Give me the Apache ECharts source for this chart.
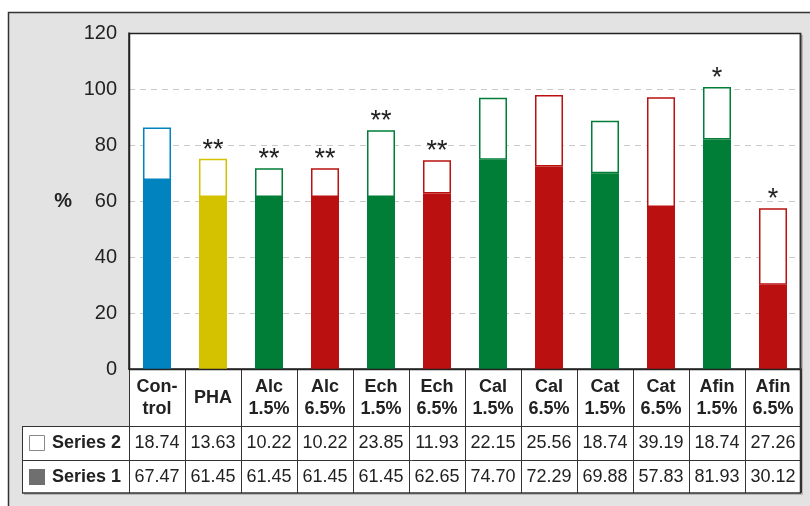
<!DOCTYPE html>
<html>
<head>
<meta charset="utf-8">
<script src="https://cdn.jsdelivr.net/npm/echarts@6/dist/echarts.min.js"></script>
<style>
  html, body { margin: 0; padding: 0; background: #fff; }
  #chart { width: 810px; height: 506px; }
</style>
</head>
<body>
<div id="chart"></div>
<script>
const categories = ['Con-\ntrol', 'PHA', 'Alc\n1.5%', 'Alc\n6.5%', 'Ech\n1.5%', 'Ech\n6.5%',
  'Cal\n1.5%', 'Cal\n6.5%', 'Cat\n1.5%', 'Cat\n6.5%', 'Afin\n1.5%', 'Afin\n6.5%']
const series1 = [67.47, 61.45, 61.45, 61.45, 61.45, 62.65, 74.70, 72.29, 69.88, 57.83, 81.93, 30.12]
const series2 = [18.74, 13.63, 10.22, 10.22, 23.85, 11.93, 22.15, 25.56, 18.74, 39.19, 18.74, 27.26]
const marks = ['', '**', '**', '**', '**', '**', '', '', '', '', '*', '*']
const yTicks = [0, 20, 40, 60, 80, 100, 120]

const BLUE = '#0083bf', YELLOW = '#d4c200', GREEN = '#007d36', RED = '#bb1010'
const barColors = [BLUE, YELLOW, GREEN, RED, GREEN, RED, GREEN, RED, GREEN, RED, GREEN, RED]

const FONT = 'Liberation Sans'
const chart = echarts.init(document.getElementById('chart'), null, { renderer: 'canvas' })

// table value rows are drawn as extra category axes under the plot
function valueAxis(values, margin) {
  return {
    type: 'category',
    data: values.map(v => v.toFixed(2)),
    position: 'bottom',
    axisLine: { show: false },
    axisTick: { show: false },
    axisLabel: {
      interval: 0, margin: margin, verticalAlign: 'middle',
      fontFamily: FONT, fontSize: 18, color: '#222'
    }
  }
}

const option = {
  animation: false,
  backgroundColor: '#ffffff',
  grid: { left: 129, right: 9, top: 33, bottom: 137 },
  graphic: [
    // outer gray panel
    { type: 'rect', z: -10, shape: { x: 8.5, y: 12.5, width: 830, height: 530 },
      style: { fill: '#e3e3e3', stroke: '#333', lineWidth: 1.5 } },
    // shadow of plot + table
    { type: 'rect', z: -9, shape: { x: 131, y: 35, width: 672, height: 460 }, style: { fill: '#b8b8b8' } },
    { type: 'rect', z: -9, shape: { x: 24, y: 428, width: 779, height: 67 }, style: { fill: '#b8b8b8' } },
    // white plot + table background
    { type: 'rect', z: -8, shape: { x: 129, y: 33, width: 672, height: 460 }, style: { fill: '#fff' } },
    { type: 'rect', z: -8, shape: { x: 22, y: 426, width: 779, height: 67 }, style: { fill: '#fff' } },
    // table frame
    { type: 'rect', z: 5, shape: { x: 129.5, y: 33.5, width: 671, height: 336 },
      style: { fill: null, stroke: '#222', lineWidth: 1.5 } },
    { type: 'line', z: 5, shape: { x1: 22, y1: 426.5, x2: 801, y2: 426.5 }, style: { stroke: '#333', lineWidth: 1 } },
    { type: 'line', z: 5, shape: { x1: 22, y1: 460.5, x2: 801, y2: 460.5 }, style: { stroke: '#333', lineWidth: 1 } },
    { type: 'line', z: 5, shape: { x1: 22, y1: 493, x2: 801, y2: 493 }, style: { stroke: '#333', lineWidth: 1.5 } },
    { type: 'line', z: 5, shape: { x1: 22.5, y1: 426, x2: 22.5, y2: 493 }, style: { stroke: '#333', lineWidth: 1 } },
    { type: 'line', z: 5, shape: { x1: 800.5, y1: 33, x2: 800.5, y2: 493 }, style: { stroke: '#333', lineWidth: 1.5 } },
    // row headers
    { type: 'rect', z: 5, shape: { x: 29.5, y: 435.5, width: 15, height: 15 },
      style: { fill: '#fff', stroke: '#888', lineWidth: 1 } },
    { type: 'text', z: 5, x: 52, y: 443.5,
      style: { text: 'Series 2', font: 'bold 18px "Liberation Sans"', fill: '#222', verticalAlign: 'middle' } },
    { type: 'rect', z: 5, shape: { x: 29, y: 469, width: 16, height: 16 }, style: { fill: '#6f6f6f' } },
    { type: 'text', z: 5, x: 52, y: 477,
      style: { text: 'Series 1', font: 'bold 18px "Liberation Sans"', fill: '#222', verticalAlign: 'middle' } }
  ],
  xAxis: [
    {
      type: 'category',
      data: categories,
      axisLine: { lineStyle: { color: '#222', width: 1.5 } },
      axisTick: { show: true, length: 124, lineStyle: { color: '#333', width: 1 } },
      axisLabel: {
        interval: 0, margin: 29, verticalAlign: 'middle', lineHeight: 22,
        fontFamily: FONT, fontSize: 18, fontWeight: 'bold', color: '#222'
      }
    },
    valueAxis(series2, 74),
    valueAxis(series1, 108)
  ],
  yAxis: {
    type: 'value',
    min: yTicks[0], max: yTicks[yTicks.length - 1], interval: 20,
    name: '%', nameLocation: 'middle', nameRotate: 0, nameGap: 57,
    nameTextStyle: { fontFamily: FONT, fontSize: 20, fontWeight: 'bold', color: '#222' },
    axisLine: { show: true, lineStyle: { color: '#222', width: 1.5 } },
    axisTick: { show: false },
    axisLabel: { margin: 12, fontFamily: FONT, fontSize: 20, color: '#222' },
    splitLine: { lineStyle: { color: '#c8c8c8', type: [6, 5], width: 1 } }
  },
  series: [
    {
      name: 'Series 1',
      type: 'bar',
      stack: 'total',
      barWidth: '50%',
      data: series1.map((v, i) => ({ value: v, itemStyle: { color: barColors[i] } }))
    },
    {
      name: 'Series 2',
      type: 'bar',
      stack: 'total',
      barWidth: '50%',
      data: series2.map((v, i) => ({
        value: v,
        itemStyle: { color: '#fff', borderColor: barColors[i], borderWidth: 1.5 }
      })),
      label: {
        show: true, position: 'top', distance: -5,
        formatter: p => marks[p.dataIndex],
        fontFamily: FONT, fontSize: 27, color: '#222'
      }
    }
  ]
}

chart.setOption(option)
</script>
</body>
</html>
